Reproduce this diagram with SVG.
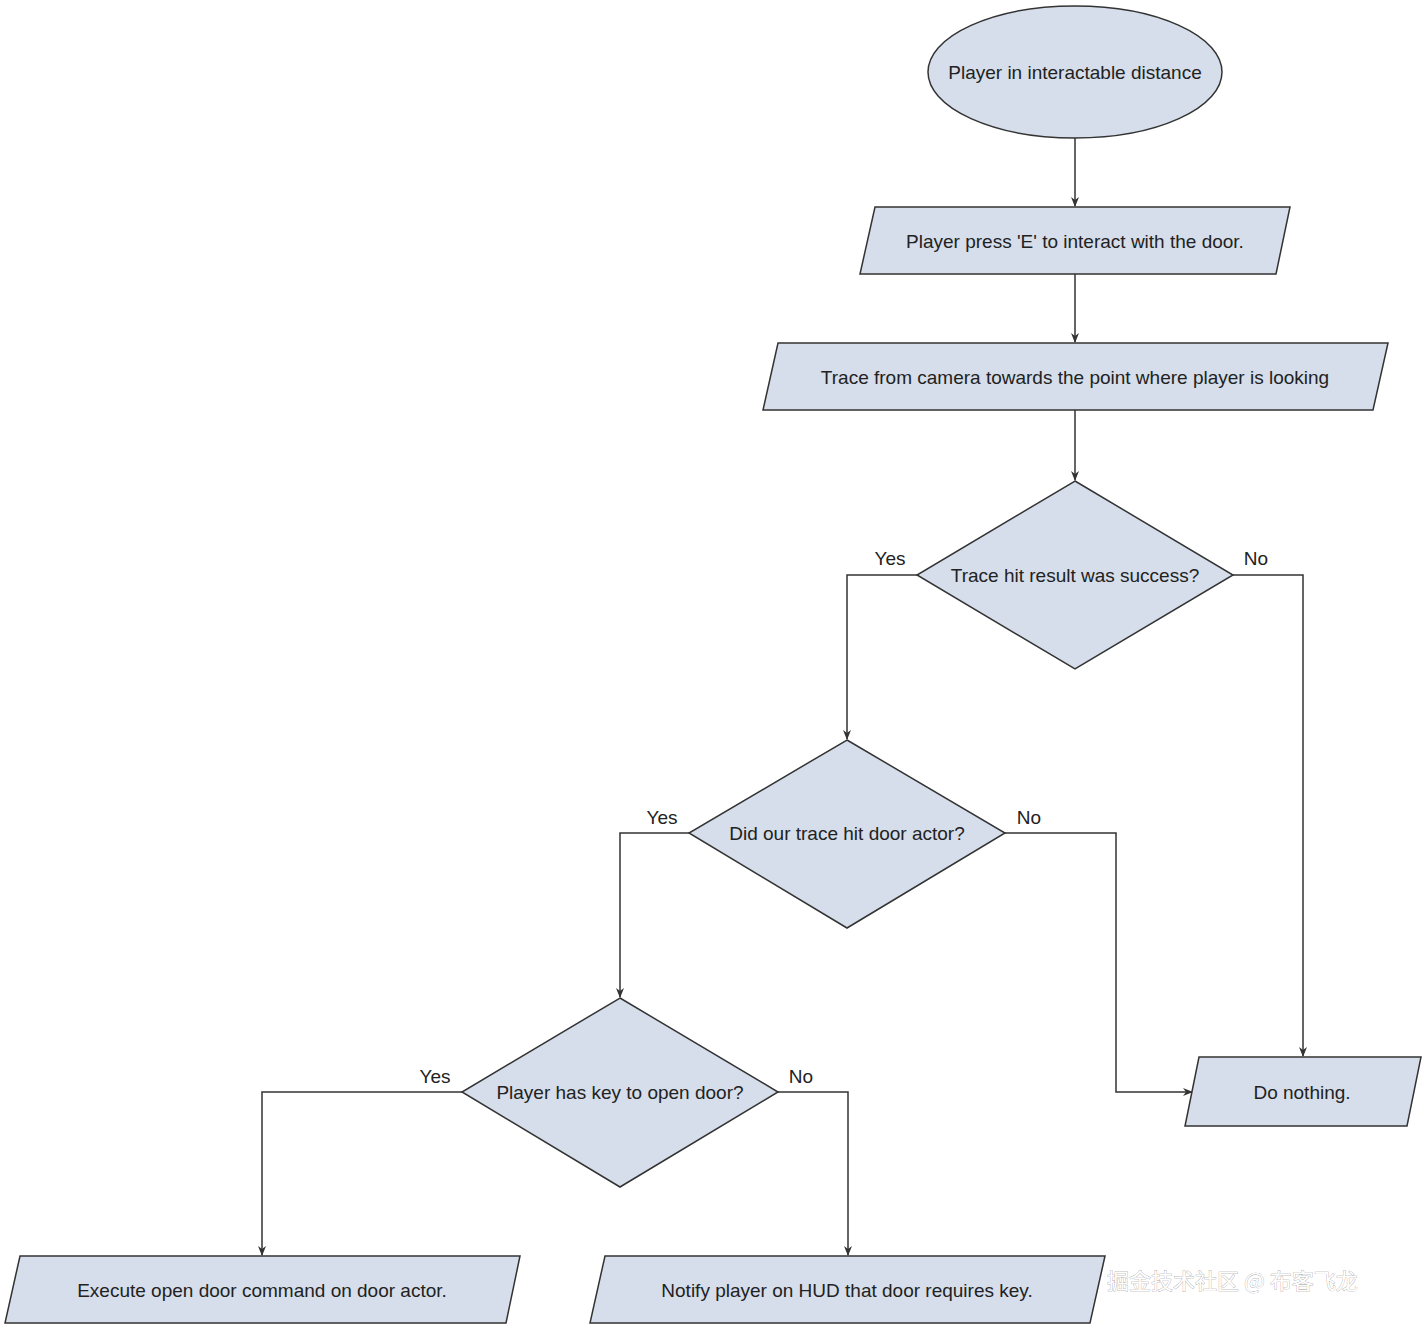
<svg xmlns="http://www.w3.org/2000/svg" width="1425" height="1329" viewBox="0 0 1425 1329">
<style>
.s{fill:#d5deea;stroke:#333;stroke-width:1.5}
.t{font-family:"Liberation Sans",Arial,sans-serif;font-size:19px;fill:#222;text-anchor:middle;dominant-baseline:central}
.c{fill:none;stroke:#333;stroke-width:1.5;marker-end:url(#a)}
.w{font-family:"Noto Sans CJK SC","Liberation Sans",sans-serif;font-size:22px;fill:#fff;stroke:#999;stroke-width:0.6;paint-order:stroke}
</style>
<defs><marker id="a" markerWidth="10" markerHeight="10" refX="9" refY="5" orient="auto" markerUnits="userSpaceOnUse"><path d="M0,1 L10,5 L0,9 L3,5Z" fill="#333"/></marker></defs>
<rect width="1425" height="1329" fill="#fff"/>
<g id="connectors">
<path class="c" d="M1075,138 V206"/>
<path class="c" d="M1075,274 V342"/>
<path class="c" d="M1075,410 V480"/>
<path class="c" d="M917,575 H847 V739"/>
<path class="c" d="M1233,575 H1303 V1056"/>
<path class="c" d="M1005,833 H1116 V1092 H1192"/>
<path class="c" d="M689,833 H620 V997"/>
<path class="c" d="M462,1092 H262 V1255"/>
<path class="c" d="M778,1092 H848 V1255"/>
<text class="t" x="890" y="558">Yes</text>
<text class="t" x="1256" y="558">No</text>
<text class="t" x="662" y="817">Yes</text>
<text class="t" x="1029" y="817">No</text>
<text class="t" x="435" y="1076">Yes</text>
<text class="t" x="801" y="1076">No</text>
</g>
<g id="start"><ellipse class="s" cx="1075" cy="72" rx="147" ry="66"/><text class="t" x="1075" y="72">Player in interactable distance</text></g>
<g id="press"><polygon class="s" points="875,207 1290,207 1276,274 860,274"/><text class="t" x="1075" y="241">Player press 'E' to interact with the door.</text></g>
<g id="trace"><polygon class="s" points="778,343 1388,343 1373,410 763,410"/><text class="t" x="1075" y="377">Trace from camera towards the point where player is looking</text></g>
<g id="d1"><polygon class="s" points="1075,481 1233,575 1075,669 917,575"/><text class="t" x="1075" y="575">Trace hit result was success?</text></g>
<g id="d2"><polygon class="s" points="847,740 1005,833 847,928 689,833"/><text class="t" x="847" y="833">Did our trace hit door actor?</text></g>
<g id="d3"><polygon class="s" points="620,998 778,1092 620,1187 462,1092"/><text class="t" x="620" y="1092">Player has key to open door?</text></g>
<g id="nothing"><polygon class="s" points="1199,1057 1421,1057 1407,1126 1185,1126"/><text class="t" x="1302" y="1092">Do nothing.</text></g>
<g id="execute"><polygon class="s" points="20,1256 520,1256 506,1323 5,1323"/><text class="t" x="262" y="1290">Execute open door command on door actor.</text></g>
<g id="notify"><polygon class="s" points="605,1256 1105,1256 1090,1323 590,1323"/><text class="t" x="847" y="1290">Notify player on HUD that door requires key.</text></g>
<text class="w" x="1107" y="1289">掘金技术社区 @ 布客飞龙</text>
</svg>
